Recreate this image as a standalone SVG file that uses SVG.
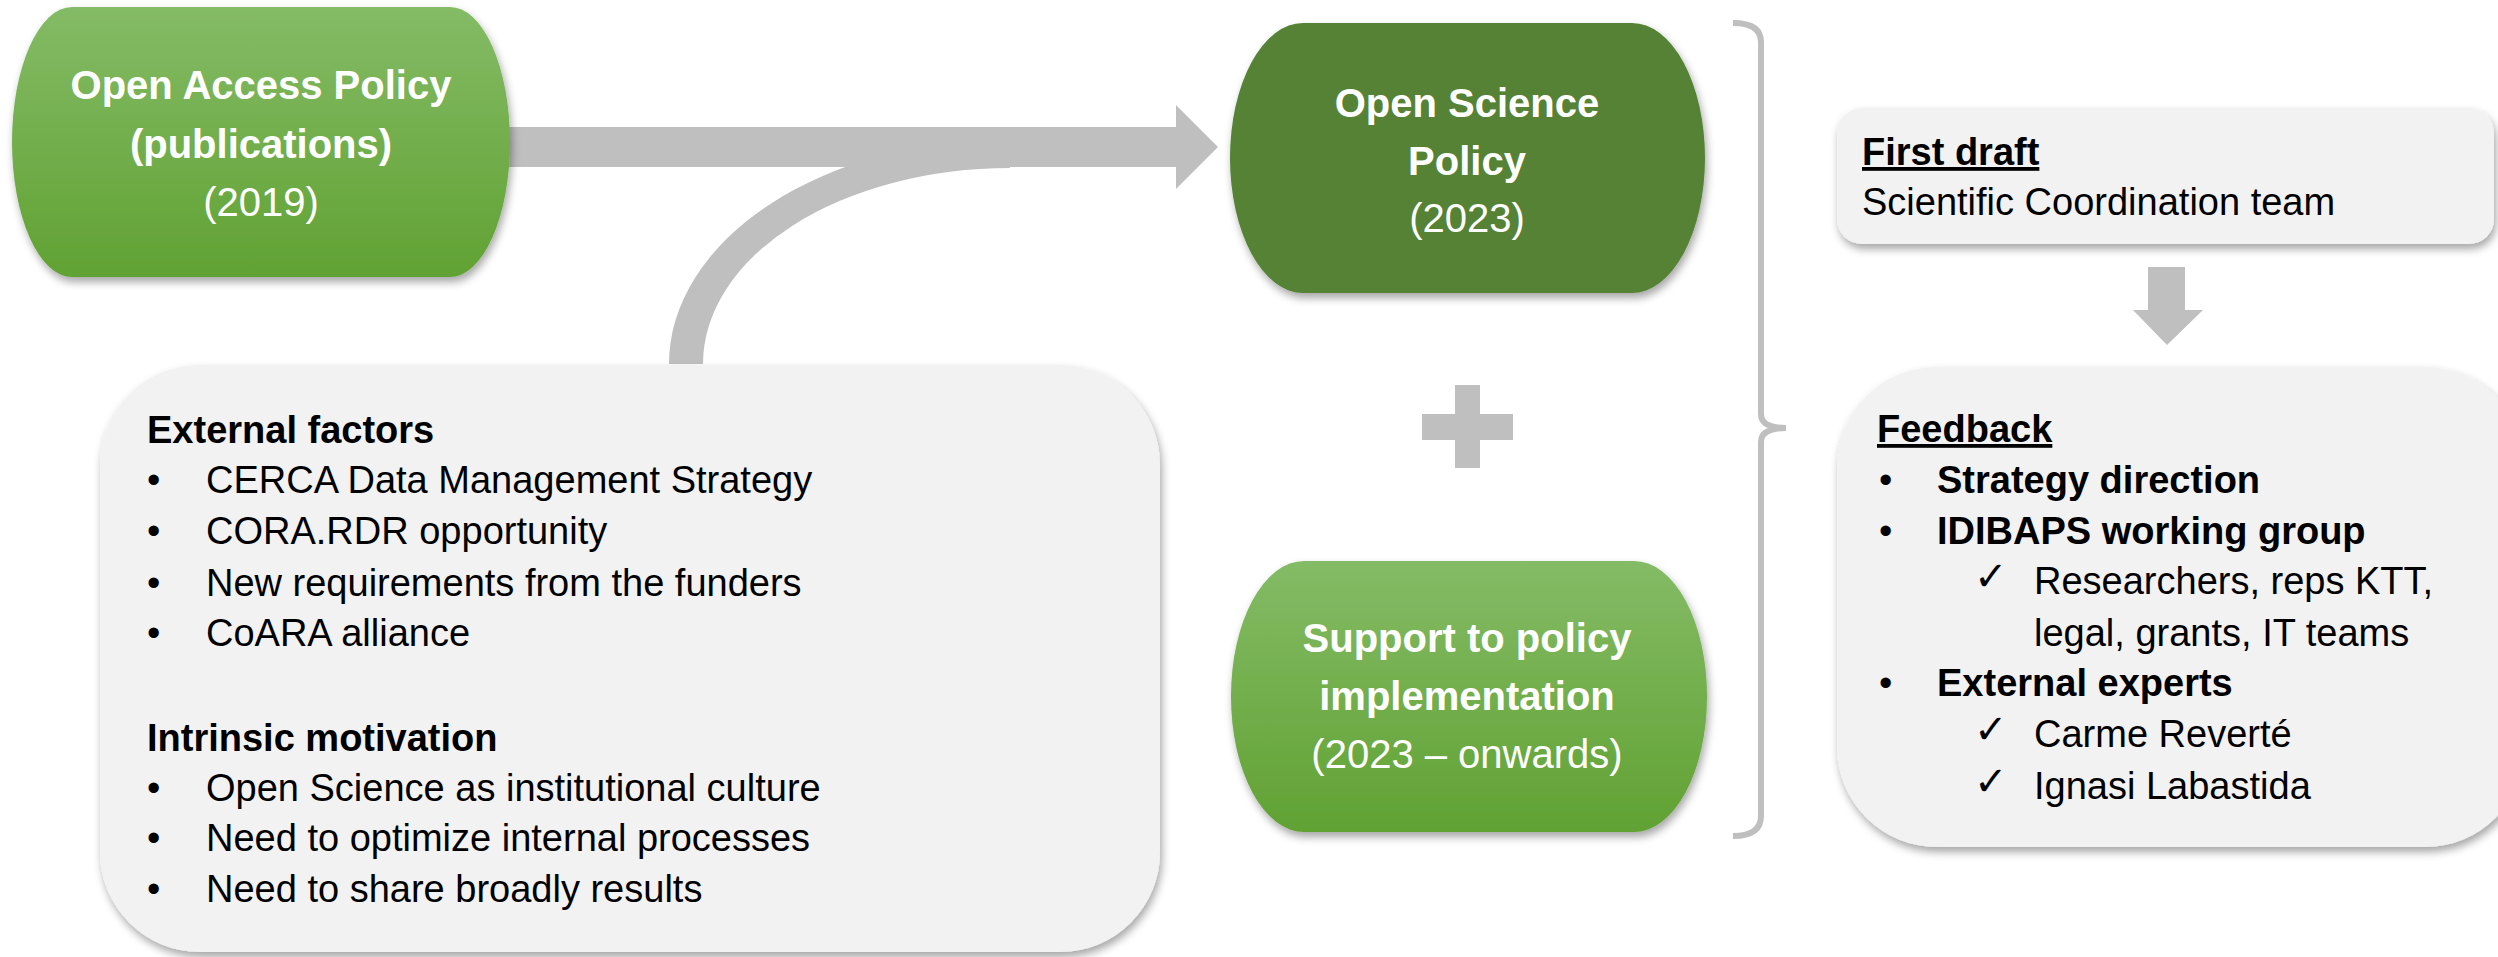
<svg xmlns="http://www.w3.org/2000/svg" width="2498" height="957" viewBox="0 0 2498 957">
<defs>
<linearGradient id="gLight" x1="0" y1="0" x2="0" y2="1">
<stop offset="0" stop-color="#84BB66"/>
<stop offset="1" stop-color="#61A233"/>
</linearGradient>
<filter id="sh" x="-10%" y="-10%" width="120%" height="125%">
<feDropShadow dx="2" dy="5" stdDeviation="4" flood-color="#000" flood-opacity="0.35"/>
</filter>
<style>
text{font-family:"Liberation Sans",Arial,sans-serif;}
.wt{fill:#fff;font-size:40px;text-anchor:middle;}
.b{font-weight:bold;}
.bt{fill:#000;font-size:38px;}
.chk{font-family:"DejaVu Sans",sans-serif;font-size:40px;fill:#000;}
.gray{fill:#BFBFBF;}
.box{fill:#F2F2F2;filter:url(#sh);}
</style>
</defs>

<g id="connectors">
<path class="gray" d="M669,364 A341,225 0 0 1 1010,139 L1010,168 A307,196 0 0 0 703,364 Z"/>
<polygon class="gray" points="505,127 1176,127 1176,105 1218,147 1176,189 1176,167 505,167"/>
<polygon class="gray" points="2148,267 2185,267 2185,310 2203,310 2167,345 2133,310 2148,310"/>
<path d="M1733,23 Q1761,23 1761,42 L1761,414 Q1761,428 1786,428 Q1761,428 1761,442 L1761,816 Q1761,836 1733,836" fill="none" stroke="#BFBFBF" stroke-width="6"/>
</g>

<g id="plus">
<rect class="gray" x="1455" y="385" width="25" height="83"/>
<rect class="gray" x="1422" y="414" width="91" height="26"/>
</g>

<g id="open-access">
<rect x="12" y="7" width="498" height="270" rx="60" ry="135" fill="url(#gLight)" filter="url(#sh)"/>
<text class="wt b" x="261" y="99">Open Access Policy</text>
<text class="wt b" x="261" y="158">(publications)</text>
<text class="wt" x="261" y="216">(2019)</text>
</g>

<g id="open-science">
<rect x="1230" y="23" width="475" height="270" rx="73" ry="135" fill="#548235" filter="url(#sh)"/>
<text class="wt b" x="1467" y="117">Open Science</text>
<text class="wt b" x="1467" y="175">Policy</text>
<text class="wt" x="1467" y="232">(2023)</text>
</g>

<g id="support">
<rect x="1231" y="561" width="476" height="271" rx="73" ry="135" fill="url(#gLight)" filter="url(#sh)"/>
<text class="wt b" x="1467" y="652">Support to policy</text>
<text class="wt b" x="1467" y="710">implementation</text>
<text class="wt" x="1467" y="768">(2023 – onwards)</text>
</g>

<g id="factors">
<rect class="box" x="100" y="365" width="1060" height="587" rx="100" ry="100"/>
<text class="bt b" x="147" y="443">External factors</text>
<text class="bt" x="147" y="493">•</text><text class="bt" x="206" y="493">CERCA Data Management Strategy</text>
<text class="bt" x="147" y="544">•</text><text class="bt" x="206" y="544">CORA.RDR opportunity</text>
<text class="bt" x="147" y="596">•</text><text class="bt" x="206" y="596">New requirements from the funders</text>
<text class="bt" x="147" y="646">•</text><text class="bt" x="206" y="646">CoARA alliance</text>
<text class="bt b" x="147" y="751">Intrinsic motivation</text>
<text class="bt" x="147" y="801">•</text><text class="bt" x="206" y="801">Open Science as institutional culture</text>
<text class="bt" x="147" y="851">•</text><text class="bt" x="206" y="851">Need to optimize internal processes</text>
<text class="bt" x="147" y="902">•</text><text class="bt" x="206" y="902">Need to share broadly results</text>
</g>

<g id="first-draft">
<rect class="box" x="1837" y="108" width="657" height="136" rx="25" ry="25"/>
<text class="bt b" x="1862" y="165" text-decoration="underline">First draft</text>
<text class="bt" x="1862" y="215">Scientific Coordination team</text>
</g>

<g id="feedback">
<rect class="box" x="1837" y="367" width="688" height="480" rx="100" ry="100"/>
<text class="bt b" x="1877" y="442" text-decoration="underline">Feedback</text>
<text class="bt" x="1879" y="493">•</text><text class="bt b" x="1937" y="493">Strategy direction</text>
<text class="bt" x="1879" y="544">•</text><text class="bt b" x="1937" y="544">IDIBAPS working group</text>
<text class="chk" x="1974" y="590">✓</text><text class="bt" x="2034" y="594">Researchers, reps KTT,</text>
<text class="bt" x="2034" y="646">legal, grants, IT teams</text>
<text class="bt" x="1879" y="696">•</text><text class="bt b" x="1937" y="696">External experts</text>
<text class="chk" x="1974" y="743">✓</text><text class="bt" x="2034" y="747">Carme Reverté</text>
<text class="chk" x="1974" y="795">✓</text><text class="bt" x="2034" y="799">Ignasi Labastida</text>
</g>
</svg>
